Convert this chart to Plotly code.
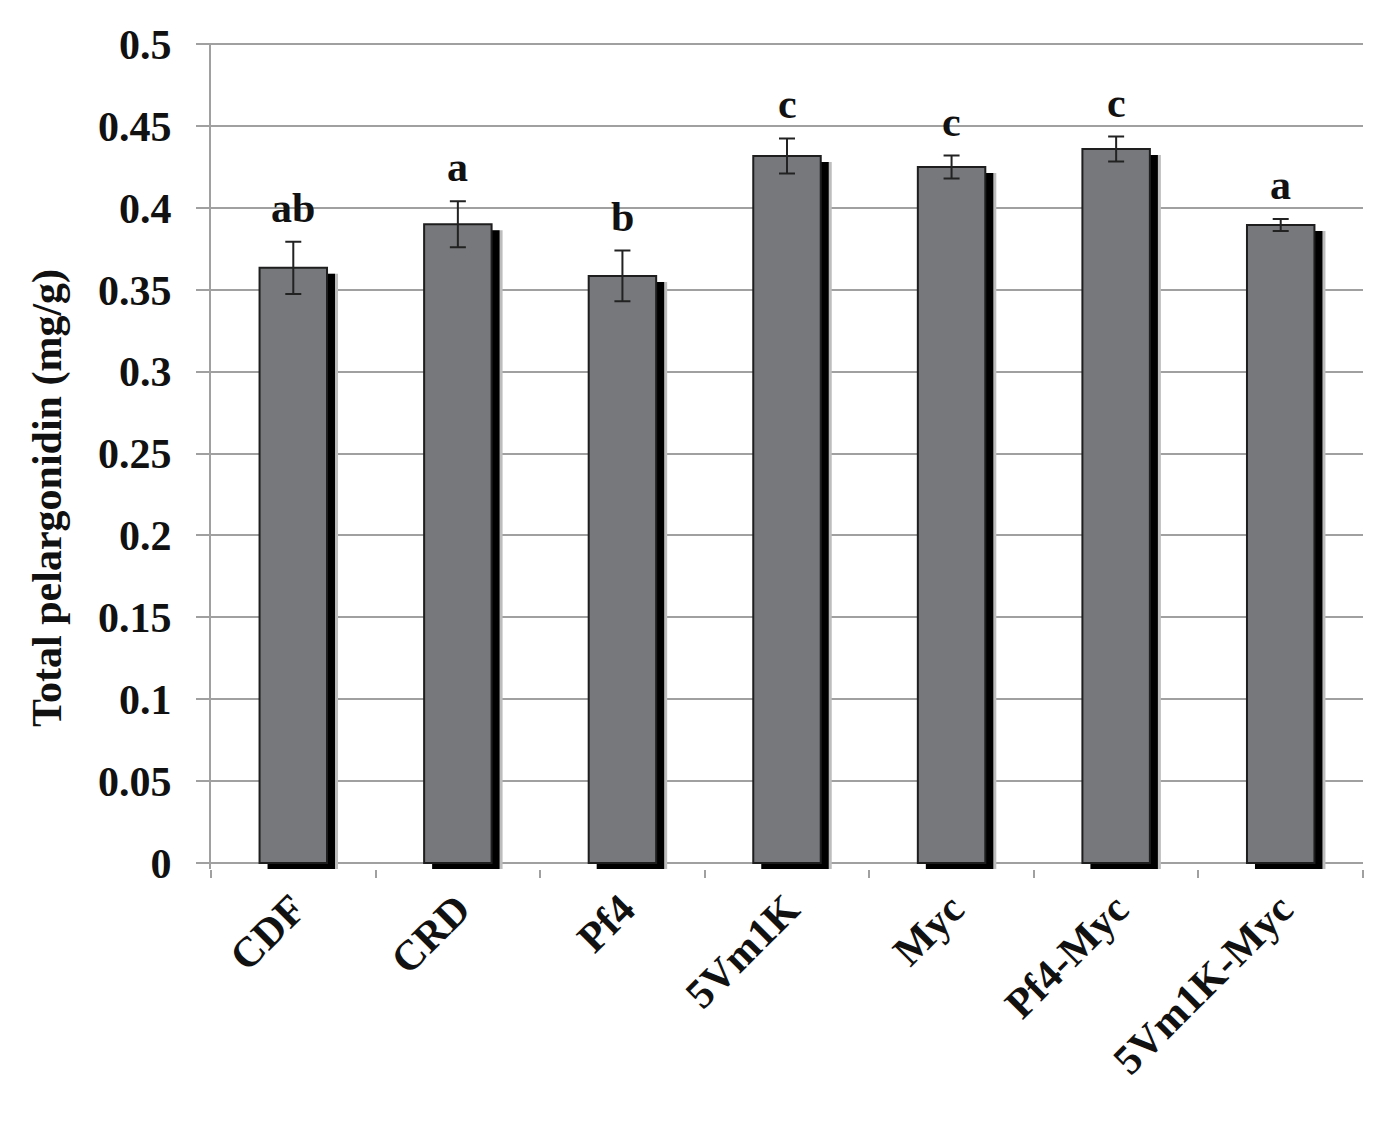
import plotly.graph_objects as go

categories = ["CDF", "CRD", "Pf4", "5Vm1K", "Myc", "Pf4-Myc", "5Vm1K-Myc"]
values = [0.3634, 0.390, 0.3585, 0.4317, 0.425, 0.436, 0.3896]
errors = [0.016, 0.014, 0.0155, 0.0107, 0.007, 0.0076, 0.0037]
letters = ["ab", "a", "b", "c", "c", "c", "a"]
y_ticks = [0, 0.05, 0.1, 0.15, 0.2, 0.25, 0.3, 0.35, 0.4, 0.45, 0.5]
y_tick_labels = ["0", "0.05", "0.1", "0.15", "0.2", "0.25", "0.3", "0.35", "0.4", "0.45", "0.5"]
y_title = "Total pelargonidin (mg/g)"

FONT = "Liberation Serif"
FS = 42
BW = 0.41
cat_px = 1152 / 7
unit_px = 820 / 0.5
dx = 8 / cat_px
dy = 6 / unit_px

fig = go.Figure()
# light grey outer shadow
fig.add_trace(go.Bar(x=categories, y=values, base=[-dy] * len(values), width=BW,
                     offset=-BW / 2 + dx + 3 / cat_px,
                     marker=dict(color="#bdbdbd", line=dict(width=0)), hoverinfo="skip"))
# black shadow
fig.add_trace(go.Bar(x=categories, y=values, base=[-dy] * len(values), width=BW,
                     offset=-BW / 2 + dx,
                     marker=dict(color="#000000", line=dict(width=0)), hoverinfo="skip"))
# main bars
fig.add_trace(go.Bar(x=categories, y=values, width=BW, offset=-BW / 2,
                     marker=dict(color="#77787b", line=dict(color="#1e1e1e", width=2)),
                     error_y=dict(type="data", array=errors, color="#222222", thickness=2, width=8)))

for c, v, e, t in zip(categories, values, errors, letters):
    fig.add_annotation(x=c, y=v + e, text=t, showarrow=False, yshift=34, yanchor="middle",
                       font=dict(family=FONT, size=FS, color="#111111", weight="bold"))

# y-axis title placed as annotation (slightly below plot centre, as in reference)
fig.add_annotation(xref="paper", yref="paper", x=-0.1424, y=0.449, text=y_title,
                   textangle=-90, showarrow=False, xanchor="center", yanchor="middle",
                   font=dict(family=FONT, size=FS, color="#111111", weight="bold"))

fig.update_layout(
    width=1395, height=1121,
    barmode="overlay", showlegend=False,
    paper_bgcolor="white", plot_bgcolor="white",
    margin=dict(l=203, r=40, t=35, b=260),
    font=dict(family=FONT, color="#111111"),
)
fig.update_xaxes(
    type="category", tickson="boundaries", ticks="outside", ticklen=8, tickwidth=2,
    tickcolor="#a0a0a0", showline=False, showgrid=False,
    tickangle=-45, ticklabelstandoff=6,
    tickfont=dict(family=FONT, size=FS, color="#111111", weight="bold"),
    range=[-0.5, 6.5],
)
fig.update_yaxes(
    range=[-dy, 0.5007], tickvals=y_ticks, ticktext=y_tick_labels,
    showgrid=True, gridcolor="#a0a0a0", gridwidth=2,
    zeroline=True, zerolinecolor="#a0a0a0", zerolinewidth=2,
    showline=True, linecolor="#a0a0a0", linewidth=2,
    ticks="outside", ticklen=13, tickwidth=2, tickcolor="#a0a0a0",
    ticklabelstandoff=16,
    tickfont=dict(family=FONT, size=FS, color="#111111", weight="bold"),
)

fig.write_html("out.html")
